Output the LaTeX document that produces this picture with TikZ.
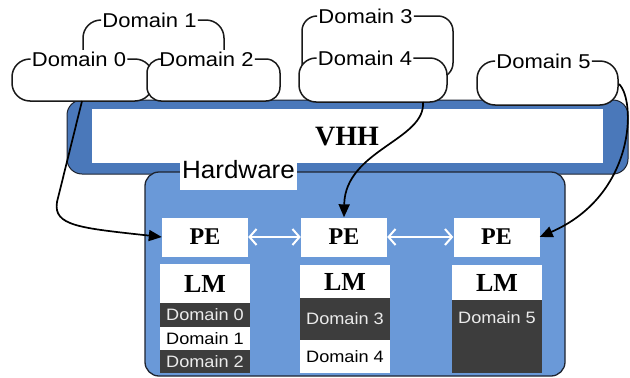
\documentclass[tikz,border=0pt]{standalone}
\usepackage{fontspec}
\usepackage{graphicx}
\setmainfont{Liberation Serif}
\newfontfamily\arialf{Liberation Sans}
\usetikzlibrary{arrows.meta}
\definecolor{vhhblue}{RGB}{74,120,186}
\definecolor{hwblue}{RGB}{106,153,216}
\definecolor{cellgray}{RGB}{61,61,61}
\definecolor{edgecol}{RGB}{30,36,48}
\newcommand\hs[2]{\scalebox{#1}[1]{#2}}

% A domain "tab": a rounded white box whose top edge is broken by its label.
% #1 corner radius, #2 name, #3 label, #4 label centre x, #5 left, #6 right, #7 top, #8 bottom
\newcommand\tabcloud[8]{%
  \fill[white, rounded corners=#1] (#5,#7) rectangle (#6,#8);
  \node[cloudtext] (#2) at (#4,#7) {\hs{1.1}{#3}};
  \draw[cloudline, rounded corners=#1]
    (#2.east) -- (#6,#7) -- (#6,#8) -- (#5,#8) -- (#5,#7) -- (#2.west);
}

\begin{document}
\begin{tikzpicture}[x=1pt,y=-1pt,
  cloudtext/.style={font=\arialf\fontsize{20}{24}\selectfont, fill=white, inner sep=1.2pt},
  cloudline/.style={draw=black!90, line width=1.5pt},
  pebox/.style={fill=white, minimum width=86pt, minimum height=39pt, inner sep=0pt,
    font=\bfseries\fontsize{24}{28}\selectfont},
  lmbox/.style={fill=white, minimum width=90pt, inner sep=0pt,
    font=\bfseries\fontsize{26}{30}\selectfont},
  darkcell/.style={fill=cellgray, minimum width=90pt, inner sep=0pt,
    text=black!8, font=\arialf\fontsize{16.5}{18}\selectfont},
  lightcell/.style={fill=white, minimum width=90pt, inner sep=0pt,
    text=black, font=\arialf\fontsize{16.5}{18}\selectfont},
  link/.style={line width=1.7pt, black, -{Triangle[length=13pt,width=11pt]}},
  peer/.style={line width=2pt, white,
    {Straight Barb[length=7pt,width=16pt]}-{Straight Barb[length=7pt,width=16pt]}}]

\useasboundingbox (0,0) rectangle (630,378);

% VHH layer
\draw[fill=vhhblue, draw=edgecol, line width=1pt, rounded corners=15pt]
  (67,100) rectangle (628,174);
\fill[white] (92,109) rectangle (603,163);
\node[anchor=base, font=\bfseries\fontsize{28}{32}\selectfont] (vhh) at (347,145) {VHH};

% Hardware
\draw[fill=hwblue, draw=edgecol, line width=1.3pt, rounded corners=14pt]
  (145,172) rectangle (565,376);
\node[anchor=base, fill=white, font=\arialf\fontsize{25}{28}\selectfont,
  text height=18pt, text depth=12pt, inner xsep=2pt, inner ysep=0pt]
  (hw) at (238.5,178) {\hs{1.04}{Hardware}};

% Processing elements
\node[pebox] (pe1) at (205,237) {PE};
\node[pebox] (pe2) at (344,237) {PE};
\node[pebox] (pe3) at (496.5,237) {PE};

% Local memories with their domain partitions
\node[lmbox, minimum height=39pt] (lm1) at (205,283.5) {LM};
\node[darkcell, minimum height=24pt] (m0) at (205,315) {\hs{1.1}{Domain 0}};
\node[lightcell, minimum height=23pt] (m1) at (205,338.5) {\hs{1.1}{Domain 1}};
\node[darkcell, minimum height=23pt] (m2) at (205,361.5) {\hs{1.1}{Domain 2}};

\node[lmbox, minimum height=33pt] (lm2) at (345,281.5) {LM};
\node[darkcell, minimum height=42pt] (m3) at (345,319) {\hs{1.1}{Domain 3}};
\node[lightcell, minimum height=33pt] (m4) at (345,356.5) {\hs{1.1}{Domain 4}};

\node[lmbox, minimum height=35pt] (lm3) at (497,282.5) {LM};
\node[darkcell, minimum height=73pt] (m5) at (497,336.5) {};
\node[darkcell, fill=none] (m5t) at (497,318) {\hs{1.1}{Domain 5}};

% Links between processing elements
\draw[peer] (pe1.east) -- (pe2.west);
\draw[peer] (pe2.east) -- (pe3.west);

% Domains
\tabcloud{18pt}{c1}{Domain 1}{149.5}{83}{224}{20}{85}
\tabcloud{18pt}{c0}{Domain 0}{79}{12}{153}{59}{101}
\tabcloud{14pt}{c2}{Domain 2}{206.5}{147}{280}{59}{101}
\tabcloud{15pt}{c3}{Domain 3}{365.5}{302}{453}{16}{78}
\tabcloud{17pt}{c4}{Domain 4}{365}{299}{447}{58}{102}
\tabcloud{18pt}{c5}{Domain 5}{543.5}{477}{618}{61}{105}

% Domain to processing element mapping
\coordinate (d0out) at (82,101);
\coordinate (d4out) at (423,102);
\coordinate (d5out) at (619,84);
\draw[link] (d0out) -- (57,202) .. controls (53,226) and (80,228) .. (pe1.west);
\draw[link] (d4out) .. controls (426,140) and (345,150) .. (pe2.north);
\draw[link] (d5out) .. controls (636,100) and (636,195) .. (pe3.east);

\end{tikzpicture}
\end{document}
